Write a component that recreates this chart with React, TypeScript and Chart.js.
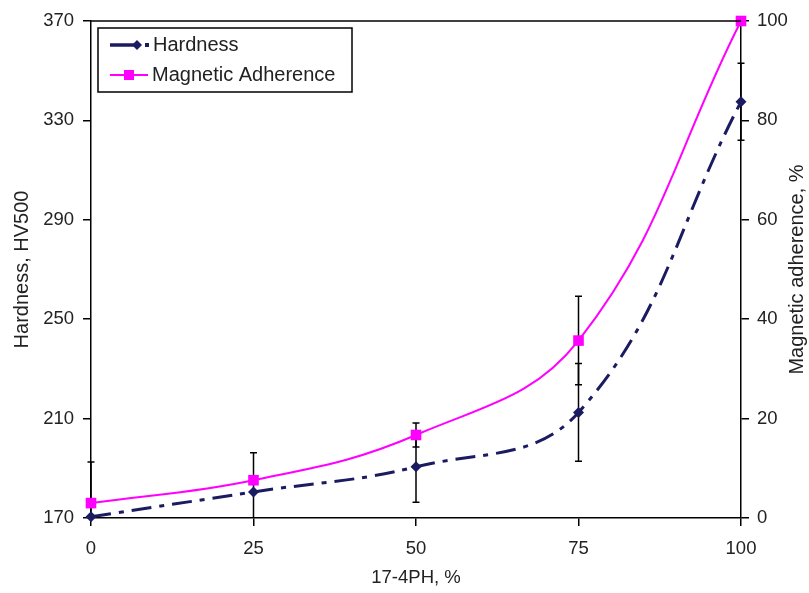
import React, { useEffect, useRef } from "react";
import { Chart, registerables } from "chart.js";

Chart.register(...registerables);

const xValues = [0, 25, 50, 75, 100];
const hardness = [170.5, 180.5, 190.6, 212.5, 337.5];
const hardnessErr = [22, 15.8, 14.3, 19.7, 15.5];
const magnetic = [3.0, 7.6, 16.7, 35.7, 100];
const magneticErr = [0, 0, 2.4, 8.9, 0];
const legendLabels = ["Hardness", "Magnetic Adherence"];
const rightTitle = "Magnetic adherence, %";

const NAVY = "#1b1b62";
const MAGENTA = "#ff00ff";
const FONT = "'Liberation Sans', Arial, sans-serif";
const TEXT = "#222222";

const errorBarPlugin = {
  id: "errorBars",
  beforeDatasetsDraw(chart: any) {
    const { ctx, chartArea } = chart;
    ctx.save();
    ctx.beginPath();
    ctx.rect(chartArea.left - 5, chartArea.top - 5, chartArea.right - chartArea.left + 10, chartArea.bottom - chartArea.top + 5);
    ctx.clip();
    ctx.strokeStyle = "#000";
    ctx.lineWidth = 1.5;
    const xs = chart.scales.x;
    const draw = (vals: number[], errs: number[], scale: any) => {
      vals.forEach((v, i) => {
        const e = errs[i];
        if (!e) return;
        const px = xs.getPixelForValue(xValues[i]);
        const yt = scale.getPixelForValue(v + e);
        const yb = scale.getPixelForValue(v - e);
        ctx.beginPath();
        ctx.moveTo(px, yt);
        ctx.lineTo(px, yb);
        ctx.moveTo(px - 3.5, yt);
        ctx.lineTo(px + 3.5, yt);
        ctx.moveTo(px - 3.5, yb);
        ctx.lineTo(px + 3.5, yb);
        ctx.stroke();
      });
    };
    draw(hardness, hardnessErr, chart.scales.y);
    draw(magnetic, magneticErr, chart.scales.y1);
    ctx.restore();
  },
};

const framePlugin = {
  id: "frameLegend",
  afterDraw(chart: any) {
    const { ctx, chartArea } = chart;
    ctx.save();
    ctx.strokeStyle = "#000";
    ctx.lineWidth = 1.5;
    ctx.beginPath();
    ctx.moveTo(chartArea.left, chartArea.top);
    ctx.lineTo(chartArea.right, chartArea.top);
    ctx.stroke();

    // right axis title, reading bottom to top
    ctx.save();
    ctx.translate(797, (chartArea.top + chartArea.bottom) / 2);
    ctx.rotate(-Math.PI / 2);
    ctx.fillStyle = TEXT;
    ctx.font = `20px ${FONT}`;
    ctx.textAlign = "center";
    ctx.textBaseline = "middle";
    ctx.fillText(rightTitle, 0, 0);
    ctx.restore();

    // legend box
    const bx = 98, by = 28, bw = 254, bh = 64;
    ctx.fillStyle = "#fff";
    ctx.fillRect(bx, by, bw, bh);
    ctx.strokeStyle = "#000";
    ctx.lineWidth = 1.5;
    ctx.strokeRect(bx, by, bw, bh);

    const r1 = 45, r2 = 75;
    ctx.strokeStyle = NAVY;
    ctx.lineWidth = 3.5;
    ctx.beginPath();
    ctx.moveTo(110, r1);
    ctx.lineTo(134, r1);
    ctx.stroke();
    ctx.fillStyle = NAVY;
    ctx.beginPath();
    ctx.moveTo(137, r1 - 5);
    ctx.lineTo(142, r1);
    ctx.lineTo(137, r1 + 5);
    ctx.lineTo(132, r1);
    ctx.closePath();
    ctx.fill();
    ctx.fillRect(145, r1 - 2, 4, 4);
    ctx.strokeStyle = MAGENTA;
    ctx.lineWidth = 2;
    ctx.beginPath();
    ctx.moveTo(110, r2);
    ctx.lineTo(148, r2);
    ctx.stroke();
    ctx.fillStyle = MAGENTA;
    ctx.fillRect(124, r2 - 5, 10, 10);

    ctx.fillStyle = TEXT;
    ctx.font = `20px ${FONT}`;
    ctx.textAlign = "left";
    ctx.textBaseline = "middle";
    ctx.fillText(legendLabels[0], 153, r1);
    ctx.fillText(legendLabels[1], 152, r2);
    ctx.restore();
  },
};

export default function App() {
  const ref = useRef<HTMLCanvasElement>(null);
  useEffect(() => {
    if (!ref.current) return;
    const gridCfg = {
      display: true,
      drawOnChartArea: false,
      drawTicks: true,
      tickLength: 8,
      color: "#000",
      lineWidth: 1.5,
    };
    const borderCfg = { display: true, color: "#000", width: 1.5 };
    const tickFont = { family: FONT, size: 18.5 };
    const chart = new Chart(ref.current, {
      type: "line",
      data: {
        datasets: [
          {
            label: legendLabels[0],
            data: xValues.map((x, i) => ({ x, y: hardness[i] })),
            yAxisID: "y",
            borderColor: NAVY,
            backgroundColor: NAVY,
            borderWidth: 3,
            borderDash: [20, 8, 5, 8],
            tension: 0.4,
            pointStyle: "rectRot",
            pointRadius: 5.5,
            pointBorderWidth: 0,
            fill: false,
            clip: false,
          },
          {
            label: legendLabels[1],
            data: xValues.map((x, i) => ({ x, y: magnetic[i] })),
            yAxisID: "y1",
            borderColor: MAGENTA,
            backgroundColor: MAGENTA,
            borderWidth: 2,
            tension: 0.4,
            pointStyle: "rect",
            pointRadius: 7.5,
            pointBorderWidth: 0,
            fill: false,
            clip: false,
          },
        ],
      },
      options: {
        responsive: false,
        animation: false,
        events: [],
        layout: { padding: { top: 21, left: 0, right: 0, bottom: 0 } },
        plugins: { legend: { display: false }, tooltip: { enabled: false } },
        scales: {
          x: {
            type: "linear",
            min: 0,
            max: 100,
            ticks: { stepSize: 25, font: tickFont, color: TEXT, padding: 12, maxRotation: 0 },
            grid: gridCfg,
            border: borderCfg,
            title: { display: true, text: "17-4PH, %", font: { family: FONT, size: 18.5 }, color: TEXT, padding: 4 },
            afterFit: (s: any) => { s.height = 75; },
          },
          y: {
            type: "linear",
            position: "left",
            min: 170,
            max: 370,
            ticks: { stepSize: 40, font: tickFont, color: TEXT, padding: 9 },
            grid: gridCfg,
            border: borderCfg,
            title: { display: true, text: "Hardness, HV500", font: { family: FONT, size: 20 }, color: TEXT, padding: 10 },
            afterFit: (s: any) => { s.width = 91; },
          },
          y1: {
            type: "linear",
            position: "right",
            min: 0,
            max: 100,
            ticks: { stepSize: 20, font: tickFont, color: TEXT, padding: 8 },
            grid: gridCfg,
            border: borderCfg,
            title: { display: false },
            afterFit: (s: any) => { s.width = 68; },
          },
        },
      },
      plugins: [errorBarPlugin, framePlugin],
    } as any);
    return () => chart.destroy();
  }, []);
  return (
    <div style={{ position: "fixed", left: 0, top: 0, width: 809, height: 593, background: "#fff" }}>
      <canvas ref={ref} width={809} height={593} style={{ display: "block" }} />
    </div>
  );
}
